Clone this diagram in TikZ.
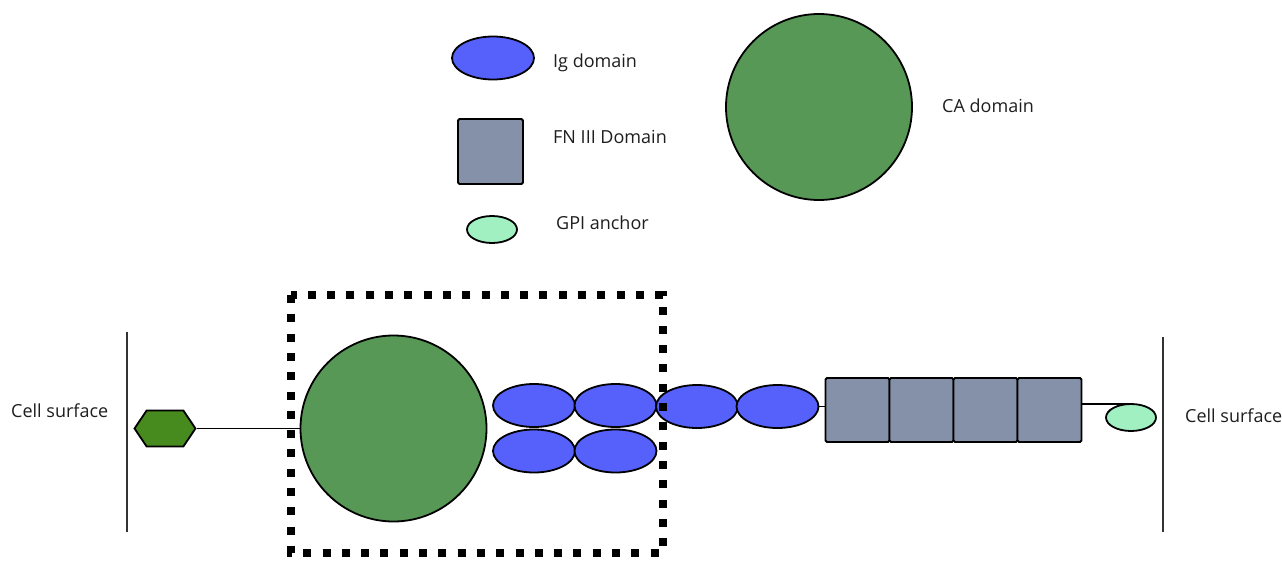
\documentclass[tikz,border=0pt]{standalone}
\usepackage{fontspec}
\setmainfont{Open Sans}
\usetikzlibrary{shapes.geometric,shapes.symbols}
\definecolor{igblue}{HTML}{5561FA}
\definecolor{cagreen}{HTML}{589857}
\definecolor{hexgreen}{HTML}{478A1D}
\definecolor{fngray}{HTML}{8591A8}
\definecolor{gpigreen}{HTML}{A0F0C2}
\definecolor{txt}{HTML}{1E1E1E}
\tikzset{
  outline/.style={draw=black, line width=1.8pt},
  igdom/.style={outline, ellipse, fill=igblue, minimum width=82pt, minimum height=43pt, inner sep=0pt},
  cadom/.style={outline, circle, fill=cagreen, minimum size=186pt, inner sep=0pt},
  fndom/.style={outline, rectangle, rounded corners=1.5pt, fill=fngray, minimum width=64pt, minimum height=64pt, inner sep=0pt},
  gpidom/.style={outline, ellipse, fill=gpigreen, minimum width=50pt, minimum height=27pt, inner sep=0pt},
  hexdom/.style={outline, signal, signal to=east and west, signal pointer angle=112, fill=hexgreen, minimum width=61pt, minimum height=36pt, inner sep=0pt},
  lbl/.style={anchor=base west, font=\fontsize{18}{20}\selectfont, text=txt, inner sep=0pt},
  membrane/.style={draw=black!80, line width=2pt},
  link/.style={draw=black, line width=1.8pt},
  frame/.style={draw=black, line width=8pt, dash pattern=on 8pt off 11.3pt}
}
\begin{document}
\begin{tikzpicture}[x=1pt,y=-1pt]
\useasboundingbox (0,0) rectangle (1282,562);

% key
\node[igdom] (kig) at (493,58) {};
\node[lbl] (kigt) at (553,67) {Ig domain};
\node[fndom, minimum width=65pt, minimum height=65pt] (kfn) at (490.5,151.5) {};
\node[lbl] (kfnt) at (553,143) {FN III Domain};
\node[gpidom] (kgpi) at (492,229.5) {};
\node[lbl] (kgpit) at (556,229) {GPI anchor};
\node[cadom] (kca) at (819,107) {};
\node[lbl] (kcat) at (942,112) {CA domain};

% membranes
\coordinate (mlt) at (127,332);
\coordinate (mlb) at (127,532);
\coordinate (mrt) at (1163,337);
\coordinate (mrb) at (1163,532);
\draw[membrane] (mlt) -- (mlb);
\draw[membrane] (mrt) -- (mrb);
\node[lbl] (cl) at (11,417) {Cell surface};
\node[lbl] (cr) at (1185,422) {Cell surface};

% molecule
\node[hexdom] (hex) at (165,428.5) {};
\node[cadom] (ca) at (393.5,428.5) {};
\draw[link] (hex.east) -- (ca.west);

\node[igdom] (ig1) at (534,405.5) {};
\node[igdom] (ig2) at (615.5,405.5) {};
\node[igdom] (ig3) at (534,451) {};
\node[igdom] (ig4) at (615.5,451) {};
\node[igdom] (ig5) at (697,406.5) {};
\node[igdom] (ig6) at (777.5,406.5) {};

\node[fndom] (fn1) at (857.5,410) {};
\node[fndom] (fn2) at (921.5,410) {};
\node[fndom] (fn3) at (985.5,410) {};
\node[fndom] (fn4) at (1049.5,410) {};
\draw[link] (ig6.east) -- (ig6.east -| fn1.west);

% tail to the anchor, drawn before the anchor so the anchor covers it
\coordinate (gpitop) at (1131,404);
\draw[link] (gpitop -| fn4.east) -- (gpitop);
\node[gpidom] (gpi) at (1131,417.5) {};

% region frame
\draw[frame] (291,295) rectangle (663,553);
\end{tikzpicture}
\end{document}
